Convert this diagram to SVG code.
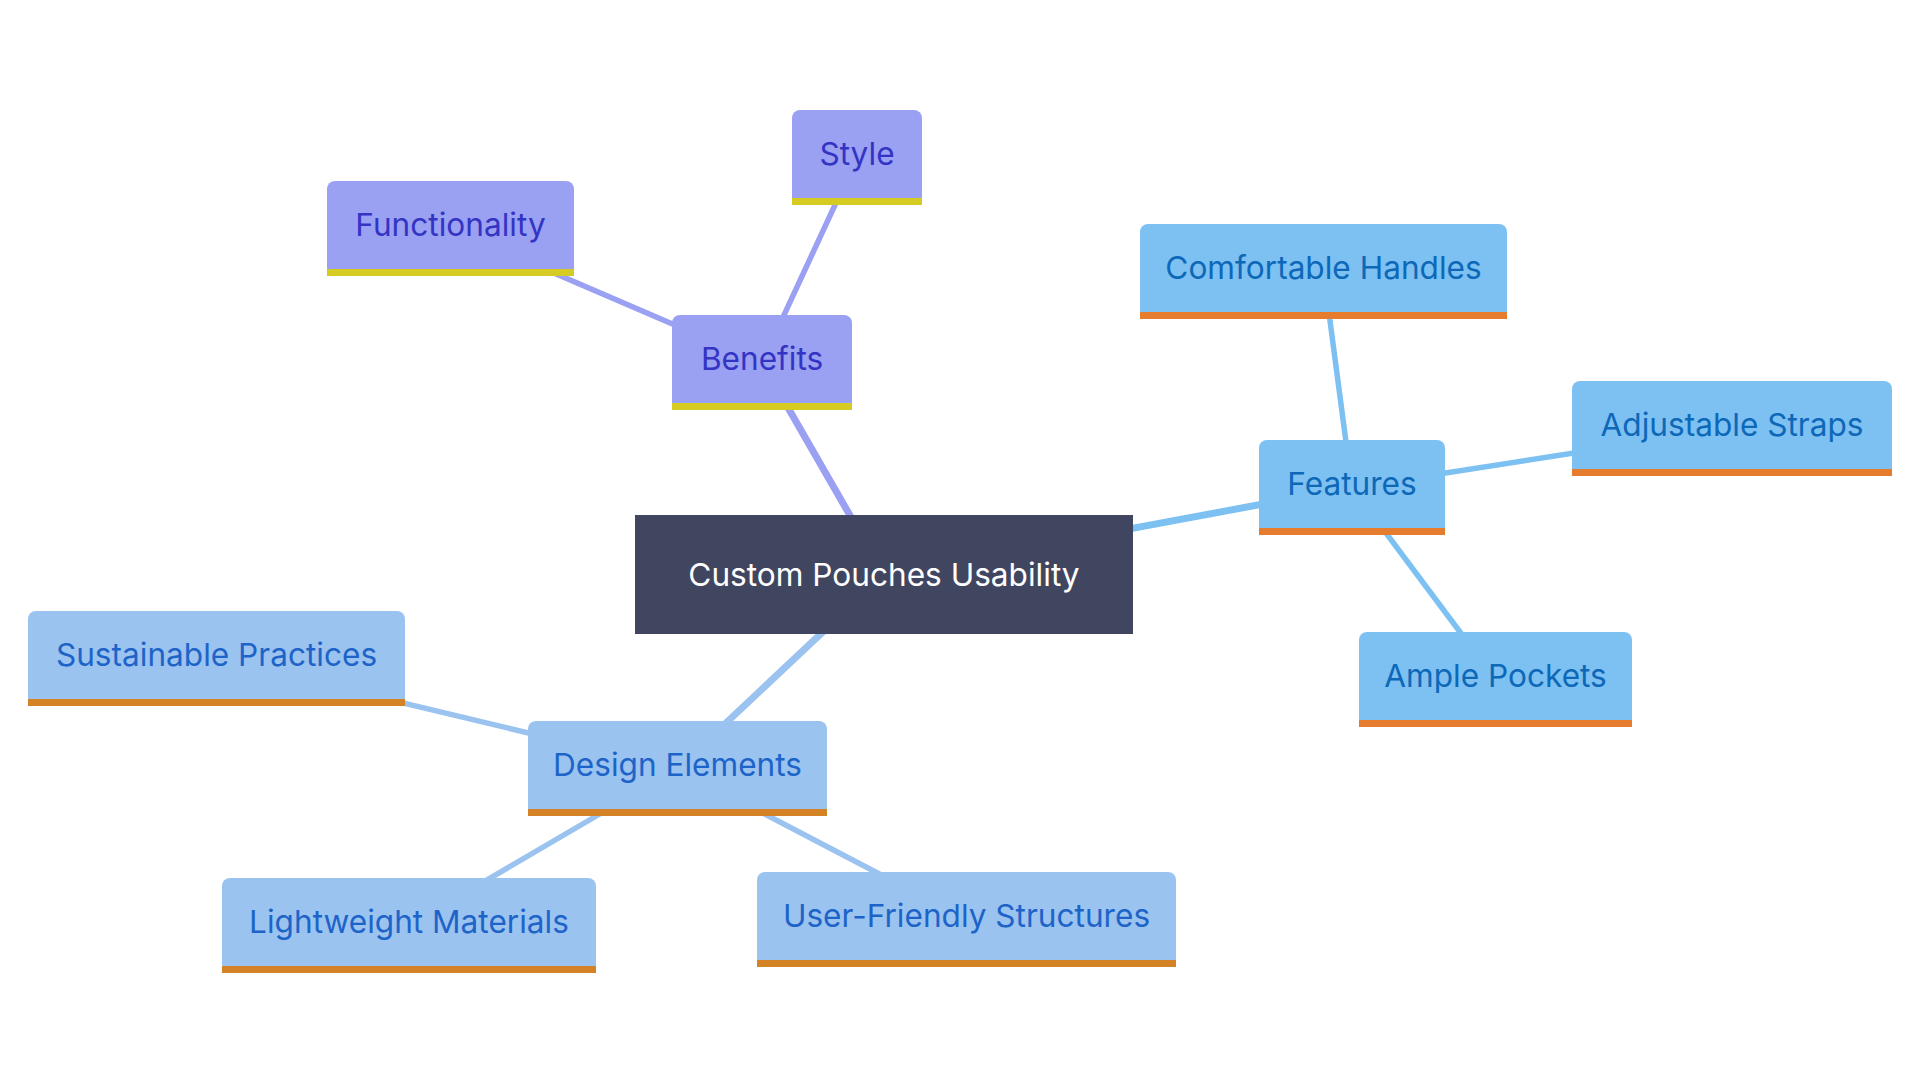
<svg xmlns="http://www.w3.org/2000/svg" width="1920" height="1080" viewBox="0 0 1920 1080">
<style>
text{font-family:Inter,"Noto Sans","DejaVu Sans",sans-serif;font-size:31.6px;text-anchor:middle}
.e{fill:none;stroke-linecap:butt}
.e1{stroke-width:7}
.e2{stroke-width:5.5}
.sb{stroke:#9aa0f2}
.sf{stroke:#7dc0f2}
.sd{stroke:#9bc3f0}
.fb{fill:#9aa0f2}.tb{fill:#3434c4}.bb{fill:#d6cb22}
.ff{fill:#7dc0f2}.tf{fill:#0d68b8}.bf{fill:#e57c2e}
.fd{fill:#9bc3f0}.td{fill:#1e64c8}.bd{fill:#d38226}
</style>
<rect width="1920" height="1080" fill="#ffffff"/>
<g id="connectors">
<line class="e e1 sb" x1="884" y1="574.5" x2="762" y2="362.5"/>
<line class="e e2 sb" x1="762" y1="362.5" x2="857" y2="157.5"/>
<line class="e e2 sb" x1="762" y1="362.5" x2="450.5" y2="228.5"/>
<line class="e e1 sf" x1="884" y1="574.5" x2="1352" y2="487.5"/>
<line class="e e2 sf" x1="1352" y1="487.5" x2="1323.5" y2="271.5"/>
<line class="e e2 sf" x1="1352" y1="487.5" x2="1732" y2="428.5"/>
<line class="e e2 sf" x1="1352" y1="487.5" x2="1495.5" y2="679.5"/>
<line class="e e1 sd" x1="884" y1="574.5" x2="677.5" y2="768.5"/>
<line class="e e2 sd" x1="677.5" y1="768.5" x2="216.5" y2="658.5"/>
<line class="e e2 sd" x1="677.5" y1="768.5" x2="409" y2="925.5"/>
<line class="e e2 sd" x1="677.5" y1="768.5" x2="966.5" y2="919.5"/>
</g>
<g id="root">
<rect x="635" y="515" width="498" height="119" fill="#414660"/>
<text x="884" y="586" fill="#ffffff">Custom Pouches Usability</text>
</g>
<g id="benefits">
<rect class="fb" x="672" y="315" width="180" height="95" rx="8"/>
<rect class="bb" x="672" y="403" width="180" height="7"/>
<text class="tb" x="762" y="370">Benefits</text>
</g>
<g id="style">
<rect class="fb" x="792" y="110" width="130" height="95" rx="8"/>
<rect class="bb" x="792" y="198" width="130" height="7"/>
<text class="tb" x="857" y="165">Style</text>
</g>
<g id="functionality">
<rect class="fb" x="327" y="181" width="247" height="95" rx="8"/>
<rect class="bb" x="327" y="269" width="247" height="7"/>
<text class="tb" x="450.5" y="236">Functionality</text>
</g>
<g id="features">
<rect class="ff" x="1259" y="440" width="186" height="95" rx="8"/>
<rect class="bf" x="1259" y="528" width="186" height="7"/>
<text class="tf" x="1352" y="495">Features</text>
</g>
<g id="comfortable-handles">
<rect class="ff" x="1140" y="224" width="367" height="95" rx="8"/>
<rect class="bf" x="1140" y="312" width="367" height="7"/>
<text class="tf" x="1323.5" y="279">Comfortable Handles</text>
</g>
<g id="adjustable-straps">
<rect class="ff" x="1572" y="381" width="320" height="95" rx="8"/>
<rect class="bf" x="1572" y="469" width="320" height="7"/>
<text class="tf" x="1732" y="436">Adjustable Straps</text>
</g>
<g id="ample-pockets">
<rect class="ff" x="1359" y="632" width="273" height="95" rx="8"/>
<rect class="bf" x="1359" y="720" width="273" height="7"/>
<text class="tf" x="1495.5" y="687">Ample Pockets</text>
</g>
<g id="design-elements">
<rect class="fd" x="528" y="721" width="299" height="95" rx="8"/>
<rect class="bd" x="528" y="809" width="299" height="7"/>
<text class="td" x="677.5" y="776">Design Elements</text>
</g>
<g id="sustainable-practices">
<rect class="fd" x="28" y="611" width="377" height="95" rx="8"/>
<rect class="bd" x="28" y="699" width="377" height="7"/>
<text class="td" x="216.5" y="666">Sustainable Practices</text>
</g>
<g id="lightweight-materials">
<rect class="fd" x="222" y="878" width="374" height="95" rx="8"/>
<rect class="bd" x="222" y="966" width="374" height="7"/>
<text class="td" x="409" y="933">Lightweight Materials</text>
</g>
<g id="user-friendly-structures">
<rect class="fd" x="757" y="872" width="419" height="95" rx="8"/>
<rect class="bd" x="757" y="960" width="419" height="7"/>
<text class="td" x="966.5" y="927">User-Friendly Structures</text>
</g>
</svg>
